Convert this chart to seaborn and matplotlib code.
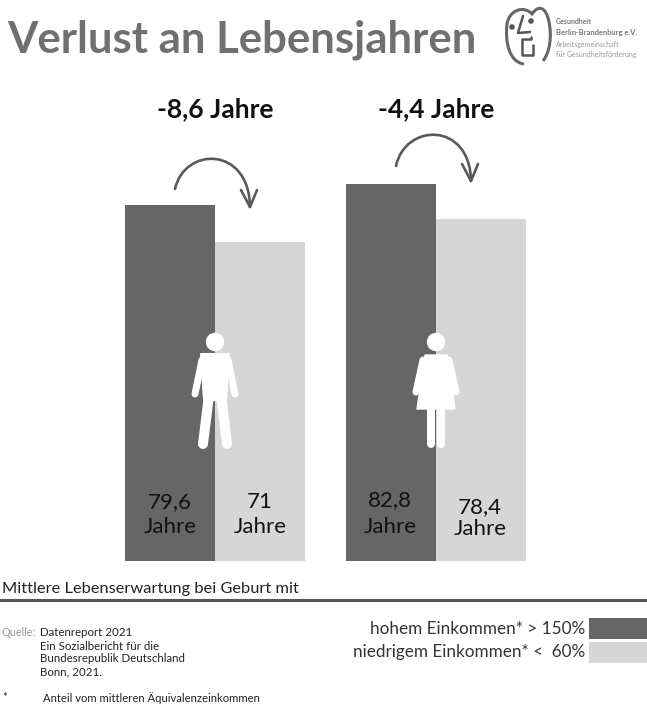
import matplotlib
matplotlib.use("Agg")
import matplotlib.pyplot as plt
import pandas as pd
import seaborn as sns
from matplotlib.patches import Circle, Polygon, PathPatch, Rectangle
from matplotlib.path import Path

W, H = 647, 706

groups = ["Männer", "Frauen"]
incomes = ["hohem Einkommen", "niedrigem Einkommen"]
# bar heights (the original bars are not exactly to scale with their labels)
bars_high = [79.6, 84.3]
bars_low = [71.3, 76.5]
labels_high = ["79,6", "82,8"]
labels_low = ["71", "78,4"]
diffs = ["-8,6 Jahre", "-4,4 Jahre"]
legend_texts = ["hohem Einkommen* > 150%", "niedrigem Einkommen* <  60%"]
source_lines = ["Datenreport 2021", "Ein Sozialbericht für die", "Bundesrepublik Deutschland", "Bonn, 2021."]
colors = ["#666666", "#d6d6d6"]

sns.set_theme(style="white")
plt.rcParams["font.family"] = ["Lato", "DejaVu Sans"]

df = pd.DataFrame({
    "group": groups * 2,
    "income": [incomes[0]] * 2 + [incomes[1]] * 2,
    "value": bars_high + bars_low,
})

fig = plt.figure(figsize=(W / 100, H / 100), dpi=100, facecolor="white")

# bars, axes placed so one unit = 4.472 px and the baseline sits at y=561
ax = fig.add_axes([104.5 / W, (H - 561) / H, 442 / W, 461 / H])
sns.barplot(data=df, x="group", y="value", hue="income", order=groups, hue_order=incomes, palette=colors,
            width=0.814, gap=0, saturation=1, legend=False, linewidth=0, ax=ax)
ax.set_xlim(-0.5, 1.5)
ax.set_ylim(0, 461 / 4.472)
ax.axis("off")

# overlay in pixel coordinates for text, arrows and pictograms
ov = fig.add_axes([0, 0, 1, 1], zorder=5)
ov.set_xlim(0, W)
ov.set_ylim(H, 0)
ov.axis("off")

ov.text(7, 53, "Verlust an Lebensjahren", fontsize=31.5, fontweight="bold", color="#707070", va="baseline")
for x, t in zip([215, 436], diffs):
    ov.text(x, 109, t, fontsize=19, fontweight="bold", color="#111111", ha="center", va="center")

for x, y, t in zip([170, 390], [508, 506], labels_high):
    ov.text(x, y, t, fontsize=16, color="#111111", ha="center", va="baseline")
    ov.text(x, 533, "Jahre", fontsize=16, color="#111111", ha="center", va="baseline")
for x, y, y2, t in zip([260, 480], [508, 513], [533, 535], labels_low):
    ov.text(x, y, t, fontsize=16, color="#111111", ha="center", va="baseline")
    ov.text(x, y2, "Jahre", fontsize=16, color="#111111", ha="center", va="baseline")


def curve_arrow(x0, y0, top, x1, y1):
    verts = [(x0, y0), (x0 + 9, top - 11), (x1 - 1, top - 13), (x1, y1)]
    codes = [Path.MOVETO, Path.CURVE4, Path.CURVE4, Path.CURVE4]
    ov.add_patch(PathPatch(Path(verts, codes), fc="none", ec="#5a5a5a", lw=1.9, capstyle="round"))
    ov.plot([x1 - 9, x1, x1 + 7], [y1 - 17, y1, y1 - 17], color="#5a5a5a", lw=1.9,
            solid_capstyle="round", solid_joinstyle="round")


curve_arrow(175, 189, 158, 250, 207)
curve_arrow(396, 166, 134, 471, 181)


def limb(xs, ys, width):
    ov.plot(xs, ys, color="white", lw=width * 0.72, solid_capstyle="round")


def person(cx, female):
    ov.add_patch(Circle((cx, 342), 9.2, fc="white", ec="none"))
    if female:
        ov.add_patch(Polygon([(cx - 11, 355), (cx + 11, 355), (cx + 19, 409), (cx - 19, 409)], fc="white", ec="white",
                             lw=1, joinstyle="round"))
        limb([cx - 13, cx - 20], [360, 392], 7)
        limb([cx + 13, cx + 20], [360, 392], 7)
        limb([cx - 5, cx - 5], [405, 444], 8)
        limb([cx + 5, cx + 5], [405, 444], 8)
    else:
        ov.add_patch(Polygon([(cx - 14, 354), (cx + 14, 354), (cx + 11, 400), (cx - 11, 400)], fc="white", ec="white",
                             lw=1.5, joinstyle="round"))
        limb([cx - 13, cx - 20], [360, 394], 7)
        limb([cx + 13, cx + 20], [360, 394], 7)
        limb([cx - 6, cx - 12], [395, 444], 10)
        limb([cx + 6, cx + 12], [395, 444], 10)


person(215, False)
person(436, True)

# logo
face = [(524, 64), (509, 62), (505, 42), (507, 24), (509, 10), (524, 5), (532, 14), (538, 5), (546, 6), (549, 22),
        (552, 36), (550, 52), (543, 61)]
codes = [Path.MOVETO] + [Path.CURVE4] * 12
ov.add_patch(PathPatch(Path(face, codes), fc="none", ec="#666666", lw=2.2))
ov.add_patch(Circle((512, 27), 2.8, fc="#555555", ec="none"))
ov.add_patch(Circle((531, 21), 2.8, fc="#555555", ec="none"))
ov.plot([523, 518, 530], [16, 33, 32], color="#555555", lw=1.8)
ov.plot([531, 531, 522, 522, 533, 533], [37, 39, 39, 55, 55, 45], color="#555555", lw=1.8)
ov.text(556, 21, "Gesundheit", fontsize=5, fontweight="bold", color="#777777", va="center")
ov.text(556, 33, "Berlin-Brandenburg e.V.", fontsize=5.4, fontweight="bold", color="#777777", va="center")
ov.text(556, 44, "Arbeitsgemeinschaft", fontsize=5, color="#999999", va="center")
ov.text(556, 54, "für Gesundheitsförderung", fontsize=5, color="#999999", va="center")

# lower block
ov.text(2, 589, "Mittlere Lebenserwartung bei Geburt mit", fontsize=11.8, color="#222222", va="center")
ov.plot([0, W], [600, 600], color="#555555", lw=2.2)
for y, t in zip([629, 652], legend_texts):
    ov.text(585, y, t, fontsize=12.3, color="#333333", ha="right", va="center")
for y, c in zip([618, 642], colors):
    ov.add_patch(Rectangle((589, y), 58, 21, fc=c, ec="none"))

ov.text(2, 633, "Quelle:", fontsize=7.8, color="#999999", va="center")
for y, t in zip([633, 646, 658, 672], source_lines):
    ov.text(40, y, t, fontsize=8.3, color="#222222", va="center")
ov.text(2, 698, "*", fontsize=8, color="#222222", va="center")
ov.text(43, 698, "Anteil vom mittleren Äquivalenzeinkommen", fontsize=8.1, color="#222222", va="center")

fig.savefig("out.png", dpi=100)
